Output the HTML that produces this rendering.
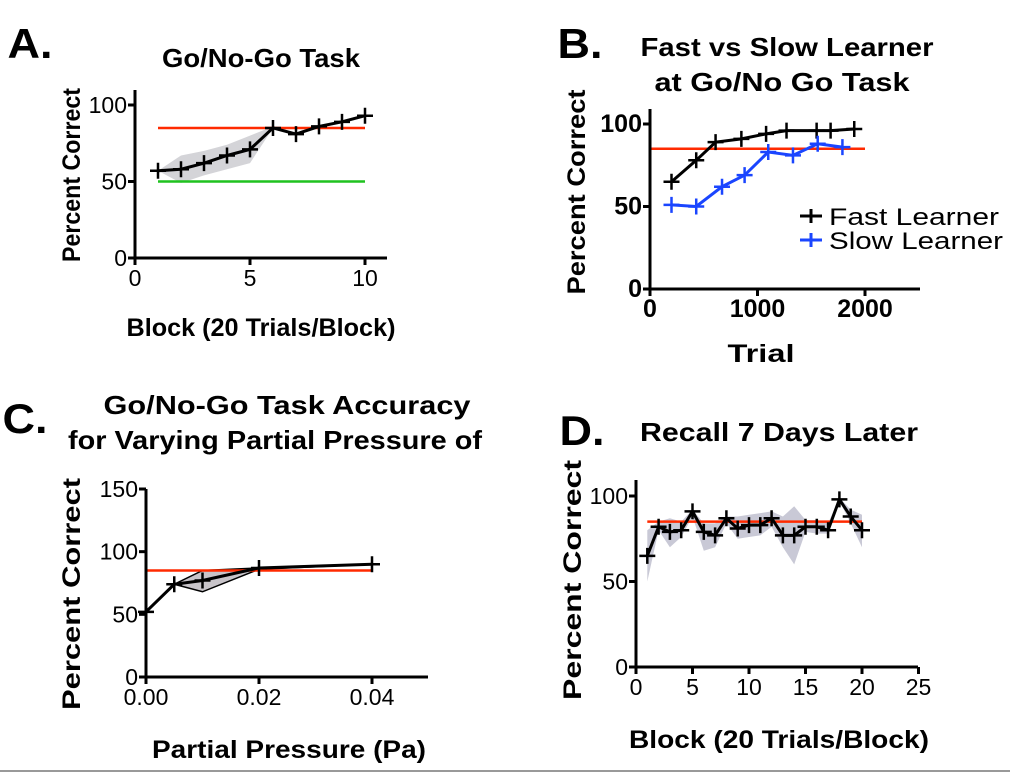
<!DOCTYPE html>
<html><head><meta charset="utf-8"><style>
html,body{margin:0;padding:0;background:#fff;}
svg{display:block;font-family:"Liberation Sans",sans-serif;}
</style></head><body>
<svg id="fig" width="1010" height="773" viewBox="0 0 1010 773">
<line x1="0" y1="771" x2="1010" y2="771" stroke="#999" stroke-width="2"/>
</svg>
<script>
// Panel A data
const aX=[1,2,3,4,5,6,7,8,9,10];
const aY=[57,58,62,67,71,85,81,86,89,93];
const aHi=[57,67,70,74,80,86,82,87,90,94];
const aLo=[57,49,54,58,62,85,80,85,88,92];
const aXTicks=[0,5,10];
const aYTicks=[0,50,100];
// Panel B data
const bFastX=[200,430,610,850,1080,1270,1550,1680,1900];
const bFastY=[65,78,89,91,94,96,96,96,97];
const bSlowX=[200,430,670,880,1100,1330,1560,1790];
const bSlowY=[51,50,62,69,83,81,88,86];
const bXTicks=[0,1000,2000];
const bYTicks=[0,50,100];
// Panel C data
const cX=[0,0.005,0.01,0.02,0.04];
const cY=[52,74,77,87,90];
const cHi=[52,74,85,87,90];
const cLo=[52,74,68,86,90];
const cXTicks=[0,0.02,0.04];
const cXTickLabels=["0.00","0.02","0.04"];
const cYTicks=[0,50,100,150];
// Panel D data
const dX=[1,2,3,4,5,6,7,8,9,10,11,12,13,14,15,16,17,18,19,20];
const dY=[65,82,79,80,91,79,77,87,81,83,83,87,77,77,82,82,80,98,88,80];
const dHi=[80,85,87,85,92,84,84,88,88,89,90,91,88,94,86,86,84,99,92,89];
const dLo=[50,80,70,76,88,68,70,84,75,76,77,82,70,60,79,78,78,97,84,70];
const dXTicks=[0,5,10,15,20,25];
const dYTicks=[0,50,100];

const NS="http://www.w3.org/2000/svg";
const svg=document.getElementById('fig');
function el(tag,attrs,parent,text){const e=document.createElementNS(NS,tag);for(const k in attrs)e.setAttribute(k,attrs[k]);if(text!==undefined)e.textContent=text;(parent||svg).appendChild(e);return e;}
function lin(d0,d1,r0,r1){return v=>r0+(v-d0)*(r1-r0)/(d1-d0);}

function axes(g,sx,sy,x0,xEnd,yTop,xt,xl,yt,bold,fs){
  const y0=sy(0);
  const ax=el('line',{x1:sx(0),y1:yTop,x2:sx(0),y2:y0,stroke:'#000','stroke-width':3},g);
  
  
  const bx=el('line',{x1:sx(0)-1.5,y1:y0,x2:xEnd,y2:y0,stroke:'#000','stroke-width':3},g);
  
  
  xt.forEach((v,i)=>{
    el('line',{x1:sx(v),y1:y0,x2:sx(v),y2:y0+7,stroke:'#000','stroke-width':3},g);
    const t=el('text',{x:sx(v),y:y0+28,'text-anchor':'middle','font-size':fs,'font-weight':bold?'bold':'normal'},g,xl?xl[i]:String(v));
    
    
  });
  yt.forEach(v=>{
    el('line',{x1:sx(0)-7,y1:sy(v),x2:sx(0),y2:sy(v),stroke:'#000','stroke-width':3},g);
    const t=el('text',{x:sx(0)-8,y:sy(v)+8,'text-anchor':'end','font-size':fs,'font-weight':bold?'bold':'normal'},g,String(v));
    
    
  });
}
function band(g,sx,sy,xs,hi,lo,fill,name){
  let p=xs.map((x,i)=>sx(x)+','+sy(hi[i]));
  for(let i=xs.length-1;i>=0;i--)p.push(sx(xs[i])+','+sy(lo[i]));
  const e=el('polygon',{points:p.join(' '),fill:fill,stroke:'none'},g);
  
  
}
function series(g,sx,sy,xs,ys,color,name){
  const l=el('polyline',{points:xs.map((x,i)=>sx(x)+','+sy(ys[i])).join(' '),fill:'none',stroke:color,'stroke-width':3},g);
  
  
  xs.forEach((x,i)=>{
    const m=el('path',{d:`M${sx(x)-8},${sy(ys[i])}h16M${sx(x)},${sy(ys[i])-8}v16`,stroke:color,'stroke-width':2.5},g);
    
    
  });
}
function hline(g,sx,sy,x1,x2,v,color,name){
  const e=el('line',{x1:sx(x1),x2:sx(x2),y1:sy(v),y2:sy(v),stroke:color,'stroke-width':2.5},g);
  
  
}
function text(g,x,y,s,fs,w,len,name,rot){
  const a={x:x,y:y,'text-anchor':'middle','font-size':fs,'font-weight':'bold'};
  if(len){a.textLength=len;a.lengthAdjust='spacingAndGlyphs';}
  if(rot)a.transform=`rotate(-90 ${x} ${y})`;
  const t=el('text',a,g,s);
  
  
  return t;
}

// Panel A
(function(){
  const g=el('g',{});
  
  
  const sx=lin(0,10,135,365), sy=lin(0,100,258,105);
  text(g,30,58,'A.',42,'bold',45,'panel-a-label');
  text(g,261,67,'Go/No-Go Task',26,'bold',198,'panel-a-title');
  text(g,80,175,'Percent Correct',25,'bold',174,'panel-a-y-title',true);
  text(g,261,336,'Block (20 Trials/Block)',25,'bold',269,'panel-a-x-title');
  band(g,sx,sy,aX,aHi,aLo,'#d4d4d8','panel-a-error-band');
  hline(g,sx,sy,1,10,85,'#ff2a00','panel-a-criterion-line');
  hline(g,sx,sy,1,10,50,'#1fc21f','panel-a-chance-line');
  series(g,sx,sy,aX,aY,'#000','panel-a-series');
  axes(g,sx,sy,0,387,90,aXTicks,null,aYTicks,false,23);
})();

// Panel B
(function(){
  const g=el('g',{});
  
  
  const sx=lin(0,2000,650,865), sy=lin(0,100,289,124);
  text(g,580,58,'B.',42,'bold',45,'panel-b-label');
  text(g,787,56,'Fast vs Slow Learner',26,'bold',293,'panel-b-title-line1');
  text(g,782,91,'at Go/No Go Task',26,'bold',255,'panel-b-title-line2');
  text(g,585,192,'Percent Correct',25,'bold',205,'panel-b-y-title',true);
  text(g,761,362,'Trial',25,'bold',67,'panel-b-x-title');
  hline(g,sx,sy,0,2000,85,'#ff2a00','panel-b-criterion-line');
  series(g,sx,sy,bFastX,bFastY,'#000','fast-learner');
  series(g,sx,sy,bSlowX,bSlowY,'#1a45ff','slow-learner');
  axes(g,sx,sy,0,920,109,bXTicks,null,bYTicks,true,25);
  const l1=el('path',{d:'M800,216h22M811,209v14',stroke:'#000','stroke-width':3},g);
  
  
  const l2=el('path',{d:'M800,240h22M811,233v14',stroke:'#1a45ff','stroke-width':3},g);
  
  
  const t1=el('text',{x:829,y:225,'font-size':24,textLength:170,lengthAdjust:'spacingAndGlyphs'},g,'Fast Learner');
  
  
  const t2=el('text',{x:829,y:249,'font-size':24,textLength:174,lengthAdjust:'spacingAndGlyphs'},g,'Slow Learner');
  
  
})();

// Panel C
(function(){
  const g=el('g',{});
  
  
  const sx=lin(0,0.04,146,372), sy=lin(0,150,677,489);
  text(g,25,433,'C.',42,'bold',45,'panel-c-label');
  text(g,287,414,'Go/No-Go Task Accuracy',26,'bold',367,'panel-c-title-line1');
  text(g,275,449,'for Varying Partial Pressure of',26,'bold',414,'panel-c-title-line2');
  text(g,80,594,'Percent Correct',25,'bold',232,'panel-c-y-title',true);
  text(g,289,758,'Partial Pressure (Pa)',25,'bold',274,'panel-c-x-title');
  band(g,sx,sy,cX,cHi,cLo,'#c8c4c9','panel-c-error-band');
  const bo=el('polygon',{points:cX.map((x,i)=>sx(x)+','+sy(cHi[i])).concat(cX.slice().reverse().map((x,j)=>sx(x)+','+sy(cLo[cX.length-1-j]))).join(' '),fill:'none',stroke:'#000','stroke-width':1.5},g);
  
  
  hline(g,sx,sy,0,0.04,85,'#ff2a00','panel-c-criterion-line');
  series(g,sx,sy,cX,cY,'#000','panel-c-series');
  axes(g,sx,sy,0,428,489,cXTicks,cXTickLabels,cYTicks,false,23);
})();

// Panel D
(function(){
  const g=el('g',{});
  
  
  const sx=lin(0,20,636,862), sy=lin(0,100,667,496);
  text(g,582,445,'D.',42,'bold',45,'panel-d-label');
  text(g,779,441,'Recall 7 Days Later',26,'bold',278,'panel-d-title');
  text(g,581,580,'Percent Correct',25,'bold',240,'panel-d-y-title',true);
  text(g,779,748,'Block (20 Trials/Block)',25,'bold',300,'panel-d-x-title');
  band(g,sx,sy,dX,dHi,dLo,'#c9c9d6','panel-d-error-band');
  hline(g,sx,sy,1,20,85,'#ff2a00','panel-d-criterion-line');
  series(g,sx,sy,dX,dY,'#000','panel-d-series');
  axes(g,sx,sy,0,918,480,dXTicks,null,dYTicks,false,23);
})();
</script>
</body></html>
